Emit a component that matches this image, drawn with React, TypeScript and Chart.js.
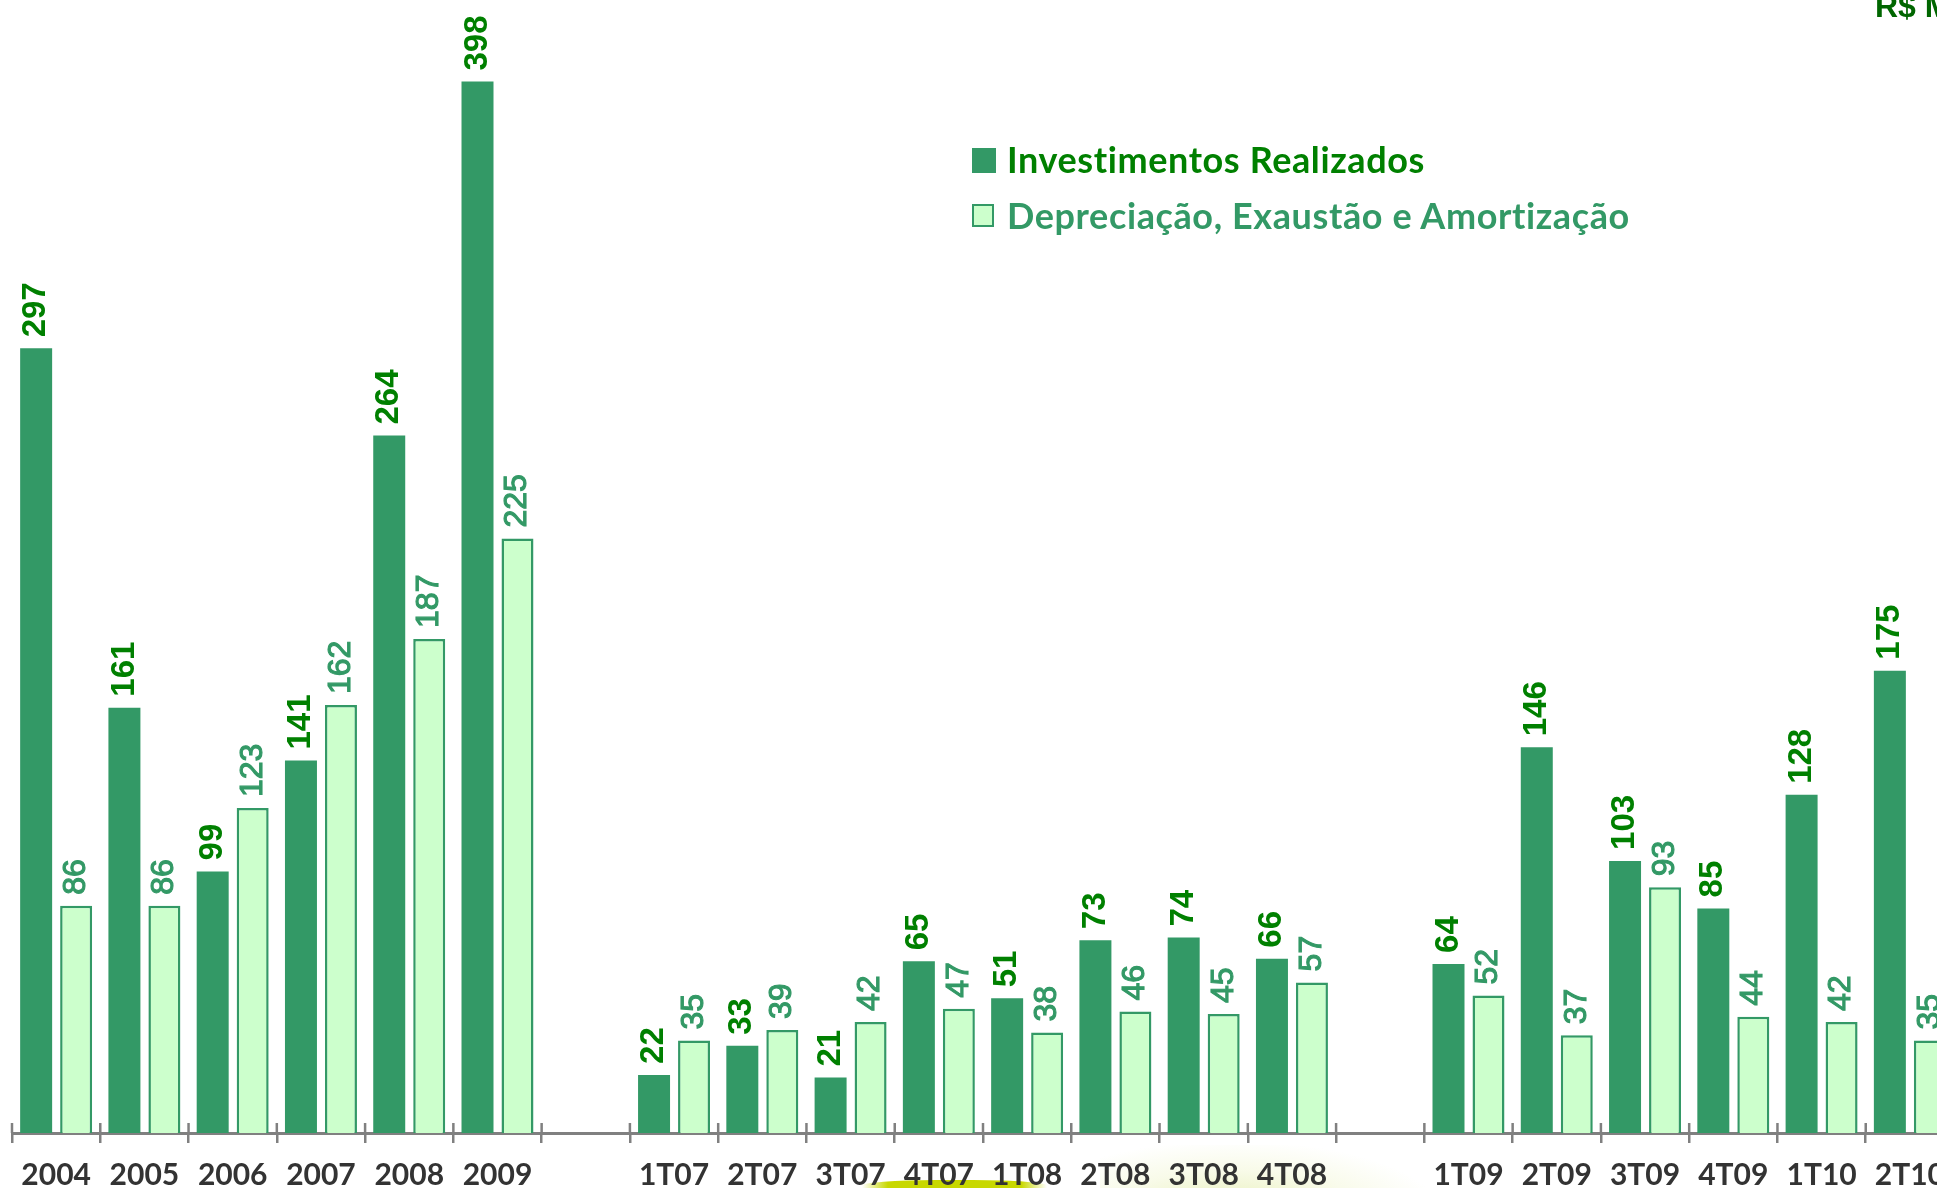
import React, { useEffect, useRef } from 'react';
import { Chart, registerables } from 'chart.js';

Chart.register(...registerables);

// ---- data ----
const categories = [
  '2004', '2005', '2006', '2007', '2008', '2009', '',
  '1T07', '2T07', '3T07', '4T07', '1T08', '2T08', '3T08', '4T08', '',
  '1T09', '2T09', '3T09', '4T09', '1T10', '2T10',
];
const investimentos = [
  297, 161, 99, 141, 264, 398, null,
  22, 33, 21, 65, 51, 73, 74, 66, null,
  64, 146, 103, 85, 128, 175,
];
const depreciacao = [
  86, 86, 123, 162, 187, 225, null,
  35, 39, 42, 47, 38, 46, 45, 57, null,
  52, 37, 93, 44, 42, 35,
];
const seriesNames = ['Investimentos Realizados', 'Depreciação, Exaustão e Amortização'];
const unitLabel = 'R$ MM';

// ---- styles ----
const DARK_FILL = '#339966';
const LIGHT_FILL = '#ccffcc';
const LIGHT_BORDER = '#339966';
const DARK_TEXT = '#008000';
const LIGHT_TEXT = '#339966';
const AXIS_GRAY = '#808080';

const valueLabels = {
  id: 'valueLabels',
  afterDatasetsDraw(chart: any) {
    const ctx = chart.ctx;
    chart.data.datasets.forEach((ds: any, di: number) => {
      const meta = chart.getDatasetMeta(di);
      meta.data.forEach((el: any, i: number) => {
        const v = ds.data[i];
        if (v == null) return;
        ctx.save();
        ctx.translate(el.x, el.y - 11);
        ctx.rotate(-Math.PI / 2);
        ctx.font = di === 0 ? 'bold 33px "Liberation Sans"' : '32px "Liberation Sans"';
        ctx.fillStyle = di === 0 ? DARK_TEXT : LIGHT_TEXT;
        ctx.textAlign = 'left';
        ctx.textBaseline = 'middle';
        ctx.fillText(String(v), 0, 0);
        if (di === 1) {
          ctx.strokeStyle = LIGHT_TEXT;
          ctx.lineWidth = 1.1;
          ctx.strokeText(String(v), 0, 0);
        }
        ctx.restore();
      });
    });
  },
};

const upperTicks = {
  id: 'upperTicks',
  afterDraw(chart: any) {
    const xs = chart.scales.x;
    const n = chart.data.labels.length;
    const step = xs.getPixelForValue(1) - xs.getPixelForValue(0);
    const y = chart.chartArea.bottom;
    const ctx = chart.ctx;
    ctx.save();
    ctx.strokeStyle = AXIS_GRAY;
    ctx.lineWidth = 2.5;
    for (let i = 0; i <= n; i++) {
      const x = xs.getPixelForValue(0) - step / 2 + i * step;
      ctx.beginPath();
      ctx.moveTo(x, y - 10);
      ctx.lineTo(x, y);
      ctx.stroke();
    }
    ctx.restore();
  },
};

export default function App() {
  const ref = useRef<HTMLCanvasElement | null>(null);

  useEffect(() => {
    if (!ref.current) return;
    const chart = new Chart(ref.current, {
      type: 'bar',
      data: {
        labels: categories,
        datasets: [
          {
            label: seriesNames[0],
            data: investimentos as any,
            backgroundColor: DARK_FILL,
            borderWidth: 0,
            categoryPercentage: 0.906,
            barPercentage: 0.8,
          },
          {
            label: seriesNames[1],
            data: depreciacao as any,
            backgroundColor: LIGHT_FILL,
            borderColor: LIGHT_BORDER,
            borderWidth: 2.5,
            categoryPercentage: 0.906,
            barPercentage: 0.8,
          },
        ],
      },
      options: {
        animation: false,
        responsive: false,
        layout: { padding: { left: 12, right: 6, top: 0, bottom: 0 } },
        plugins: { legend: { display: false }, tooltip: { enabled: false } },
        scales: {
          x: {
            z: 1,
            grid: {
              display: true,
              drawOnChartArea: false,
              drawTicks: true,
              tickLength: 10,
              color: AXIS_GRAY,
              lineWidth: 2.5,
              offset: true,
            },
            border: { display: true, color: AXIS_GRAY, width: 3 },
            ticks: {
              color: '#333333',
              font: { family: 'Lato', weight: 'bold', size: 30 },
              padding: 14,
              maxRotation: 0,
              autoSkip: false,
            },
            afterFit: (s: any) => {
              s.height = 55;
            },
          },
          y: { display: false, min: 0, max: 444 },
        },
      },
      plugins: [valueLabels, upperTicks],
    });
    return () => chart.destroy();
  }, []);

  const legendText: React.CSSProperties = {
    position: 'absolute',
    left: 1007,
    fontFamily: 'Lato',
    fontWeight: 'bold',
    fontSize: 36,
    letterSpacing: '0.6px',
    lineHeight: '40px',
    whiteSpace: 'nowrap',
  };

  return (
    <div
      style={{
        position: 'absolute',
        left: 0,
        top: 0,
        width: 1937,
        height: 1188,
        overflow: 'hidden',
        background: '#ffffff',
      }}
    >
      <div
        style={{
          position: 'absolute',
          left: 1100,
          top: 1145,
          width: 330,
          height: 70,
          background:
            'radial-gradient(ellipse at 40% 100%, rgba(225,235,165,0.85) 0%, rgba(240,245,205,0.45) 45%, rgba(255,255,255,0) 75%)',
        }}
      />
      <div
        style={{
          position: 'absolute',
          left: 862,
          top: 1180,
          width: 185,
          height: 14,
          borderRadius: '40% 40% 0 0',
          background:
            'linear-gradient(to right, rgba(200,216,0,0) 0%, #c8d800 14%, #c8d800 86%, rgba(200,216,0,0) 100%)',
        }}
      />
      <canvas
        ref={ref}
        width={1960}
        height={1228}
        style={{ position: 'absolute', left: 0, top: -40 }}
      />
      <div
        style={{
          position: 'absolute',
          left: 1875,
          top: -10,
          fontFamily: '"Liberation Sans"',
          fontWeight: 'bold',
          fontSize: 32,
          lineHeight: '32px',
          color: '#006600',
          whiteSpace: 'nowrap',
        }}
      >
        {unitLabel}
      </div>
      <div
        style={{
          position: 'absolute',
          left: 972,
          top: 148,
          width: 24,
          height: 25,
          background: DARK_FILL,
        }}
      />
      <div style={{ ...legendText, top: 139, color: DARK_TEXT }}>{seriesNames[0]}</div>
      <div
        style={{
          position: 'absolute',
          left: 972,
          top: 204,
          width: 18,
          height: 19,
          background: LIGHT_FILL,
          border: `2px solid ${LIGHT_BORDER}`,
        }}
      />
      <div style={{ ...legendText, top: 195, color: LIGHT_TEXT }}>{seriesNames[1]}</div>
    </div>
  );
}
